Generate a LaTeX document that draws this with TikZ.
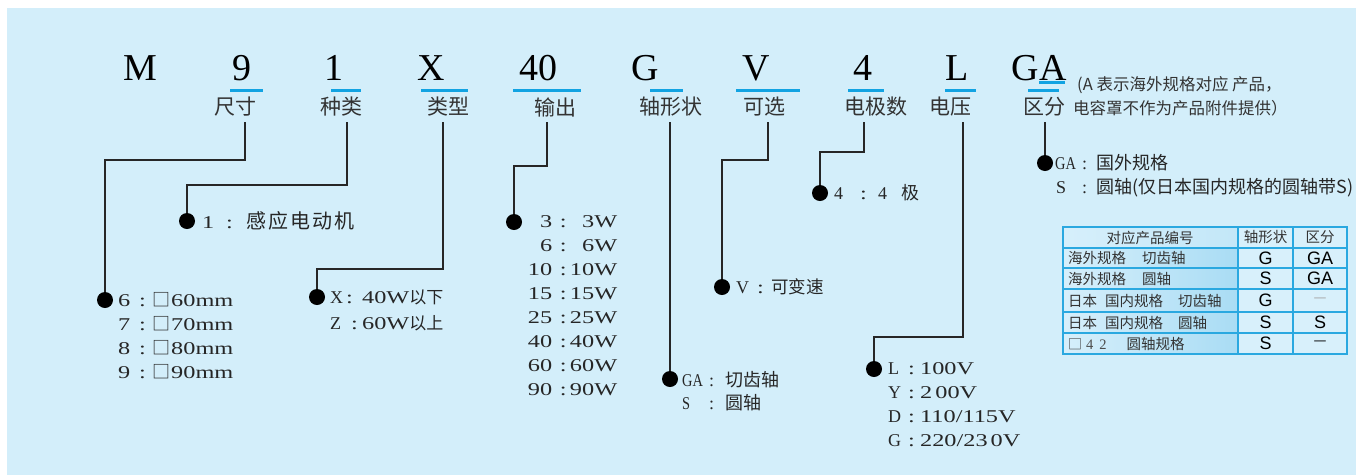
\documentclass[tikz,border=0pt]{standalone}
\usepackage{fontspec}
\setmainfont{Liberation Serif}
\newfontfamily\cjk{Noto Sans CJK SC}
\newfontfamily\wser[FakeStretch=1.35]{Liberation Serif}
\newfontfamily\cser[FakeStretch=0.8]{Liberation Serif}
\newfontfamily\tsans{Liberation Sans}
\definecolor{bgblue}{HTML}{D3EEFA}
\definecolor{ublue}{HTML}{12A3E2}
\definecolor{tblue}{HTML}{2AA8E0}
\definecolor{cellL}{HTML}{D6EFFB}
\definecolor{cellR}{HTML}{A9DCF4}
\definecolor{cellP}{HTML}{D8F0FB}
\definecolor{headR}{HTML}{C3E7F8}
\newcommand\fs[1]{\fontsize{#1}{#1}\selectfont}
\begin{document}
\begin{tikzpicture}[x=1pt,y=-1pt,
  big/.style={font=\fs{38}, anchor=base, inner sep=0pt},
  lab/.style={font=\cjk\fs{21}, inner sep=0pt, text=black!80},
  uline/.style={draw=ublue, line width=3pt},
  conn/.style={draw=black!85, line width=1.1pt},
  bdot/.style={circle, fill=black, minimum size=16pt, inner sep=0pt},
  ann/.style={font=\rmfamily\fs{18}, inner sep=0pt, anchor=west, text=black!85},
  tb/.style={draw=tblue, line width=1.1pt},
  tcj/.style={font=\cjk\fs{14.5}, inner sep=0pt, text=black!80},
  tlat/.style={font=\tsans\fs{18}, inner sep=0pt},
]
\useasboundingbox (0,0) rectangle (1356,475);
\fill[white] (0,0) rectangle (1356,475);
\fill[bgblue] (7,8) rectangle (1356,475);

% model code
\node[big] (gM) at (140,80) {M};
\node[big] (g9) at (242,80) {9};
\node[big] (g1) at (334,80) {1};
\node[big] (gX) at (431,80) {X};
\node[big] (g40) at (538,80) {40};
\node[big] (gG) at (645,80) {G};
\node[big] (gV) at (756,80) {V};
\node[big] (g4) at (863,80) {4};
\node[big] (gL) at (957,80) {L};
\node[big] (gGA) at (1039,80) {GA};

\draw[uline] (230,90) -- (263,90);
\draw[uline] (331,90) -- (361,90);
\draw[uline] (421,90) -- (468,90);
\draw[uline] (513,90) -- (581,90);
\draw[uline] (650,90) -- (683,90);
\draw[uline] (736,90) -- (800,90);
\draw[uline] (848,90) -- (884,90);
\draw[uline] (945,90) -- (976,90);
\draw[uline] (1039,82) -- (1065,82);
\draw[uline] (1028,90) -- (1059,90);

% labels
\node[lab] (l1) at (235,107) {尺寸};
\node[lab] (l2) at (341,107) {种类};
\node[lab] (l3) at (448,107) {类型};
\node[lab] (l4) at (555,107) {输出};
\node[lab] (l5) at (671,107) {轴形状};
\node[lab] (l6) at (764,107) {可选};
\node[lab] (l7) at (876,107) {电极数};
\node[lab] (l8) at (950,107) {电压};
\node[lab] (l9) at (1044,107) {区分};
\node[font=\cjk\fs{16.5}, anchor=west, inner sep=0pt, text=black!80] (n1) at (1077,85) {(A 表示海外规格对应 产品，};
\node[font=\cjk\fs{16.5}, anchor=west, inner sep=0pt, text=black!80] (n2) at (1073,108) {电容罩不作为产品附件提供）};

% connectors
\coordinate (c1) at (245,122); \coordinate (k1) at (105,160);
\coordinate (c2) at (347,122); \coordinate (k2) at (187,185);
\coordinate (c3) at (443,122); \coordinate (k3) at (317,269);
\coordinate (c4) at (547,122); \coordinate (k4) at (514,166);
\coordinate (c5) at (670,122);
\coordinate (c6) at (768,122); \coordinate (k6) at (722,160);
\coordinate (c7) at (864,122); \coordinate (k7) at (820,152);
\coordinate (c8) at (963,122); \coordinate (k8) at (874,337);
\coordinate (c9) at (1045,122);

\node[bdot] (d1) at (105,300) {};
\node[bdot] (d2) at (187,221) {};
\node[bdot] (d3) at (317,297) {};
\node[bdot] (d4) at (514,222) {};
\node[bdot] (d5) at (670,379) {};
\node[bdot] (d6) at (722,287) {};
\node[bdot] (d7) at (820,193) {};
\node[bdot] (d8) at (874,369) {};
\node[bdot] (d9) at (1045,163) {};

\draw[conn] (c1) |- (k1) -- (d1);
\draw[conn] (c2) |- (k2) -- (d2);
\draw[conn] (c3) |- (k3) -- (d3);
\draw[conn] (c4) |- (k4) -- (d4);
\draw[conn] (c5) -- (d5);
\draw[conn] (c6) |- (k6) -- (d6);
\draw[conn] (c7) |- (k7) -- (d7);
\draw[conn] (c8) |- (k8) -- (d8);
\draw[conn] (c9) -- (d9);

% size block
\node[ann] (s6) at (118,300) {\makebox[21pt][l]{\wser 6}\makebox[13pt][l]{\wser :}{\cjk □}\hspace{1pt}{\wser 60mm}};
\node[ann] (s7) at (118,324) {\makebox[21pt][l]{\wser 7}\makebox[13pt][l]{\wser :}{\cjk □}\hspace{1pt}{\wser 70mm}};
\node[ann] (s8) at (118,348) {\makebox[21pt][l]{\wser 8}\makebox[13pt][l]{\wser :}{\cjk □}\hspace{1pt}{\wser 80mm}};
\node[ann] (s9) at (118,372) {\makebox[21pt][l]{\wser 9}\makebox[13pt][l]{\wser :}{\cjk □}\hspace{1pt}{\wser 90mm}};

% kind block
\node[ann] (k1t) at (202,221) {\makebox[24pt][l]{\wser 1}\makebox[20pt][l]{\wser :}{\cjk\fs{20}感\kern2pt 应\kern2pt 电\kern2pt 动\kern2pt 机}};

% type block
\node[ann] (tx) at (330,297) {\makebox[16pt][l]{X}\makebox[16pt][l]{\wser :}{\wser 40W}{\cjk\fs{17}以下}};
\node[ann] (tz) at (330,323) {\makebox[21pt][l]{Z}\makebox[11pt][l]{\wser :}{\wser 60W}{\cjk\fs{17}以上}};

% output block
\foreach \n/\v/\yy in {3/3W/222, 6/6W/246, 10/10W/270, 15/15W/294, 25/25W/318, 40/40W/342, 60/60W/366, 90/90W/390}{
  \node[ann] (p\n) at (517,\yy) {\makebox[35pt][r]{\wser \n}\makebox[22pt][c]{\wser :}\makebox[43pt][r]{\wser \v}};
}

% shaft block
\node[ann] (sg) at (682,380) {\makebox[27pt][l]{\cser GA}\makebox[16pt][l]{:}{\cjk 切齿轴}};
\node[ann] (ss) at (682,403) {\makebox[27pt][l]{\cser S}\makebox[16pt][l]{:}{\cjk 圆轴}};

% option block
\node[ann] (ov) at (736,287) {\makebox[21pt][l]{V}\makebox[14pt][l]{\wser :}{\cjk\fs{17.5}可变速}};

% poles block
\node[ann] (pp) at (834,193) {\makebox[26pt][l]{4}\makebox[18pt][l]{\wser :}\makebox[23pt][l]{4}{\cjk 极}};

% voltage block
\node[ann] (vL) at (888,369) {\makebox[20pt][l]{L}\makebox[12pt][l]{\wser :}{\wser 100V}};
\node[ann] (vY) at (888,393) {\makebox[20pt][l]{Y}\makebox[12pt][l]{\wser :}{\wser 2\,00V}};
\node[ann] (vD) at (888,417) {\makebox[20pt][l]{D}\makebox[12pt][l]{\wser :}{\wser 110/115V}};
\node[ann] (vG) at (888,441) {\makebox[20pt][l]{G}\makebox[12pt][l]{\wser :}{\wser 220/23\,0V}};

% distinction block
\node[ann] (q1) at (1055,163) {\makebox[27pt][l]{\cser GA}\makebox[14pt][l]{:}{\cjk 国外规格}};
\node[ann] (q2) at (1056,188) {\makebox[26pt][l]{S}\makebox[14pt][l]{:}{\cjk 圆轴(仅日本国内规格的圆轴带S)}};

% table
\shade[left color=cellL, right color=headR] (1063,227) rectangle (1238,248);
\fill[cellP] (1238,227) rectangle (1347,248);
\shade[left color=cellL, right color=cellR] (1063,248) rectangle (1238,354);
\fill[cellP] (1238,248) rectangle (1347,354);
\draw[tb] (1063,227) rectangle (1347,354);
\draw[tb] (1063,248) -- (1347,248);
\draw[tb] (1063,268) -- (1347,268);
\draw[tb] (1063,289) -- (1347,289);
\draw[tb] (1063,312) -- (1347,312);
\draw[tb] (1063,333) -- (1347,333);
\draw[tb] (1238,227) -- (1238,354);
\draw[tb] (1293,227) -- (1293,354);

\node[tcj] (h1) at (1150,237.5) {对应产品编号};
\node[tcj] (h2) at (1265.5,237.5) {轴形状};
\node[tcj] (h3) at (1320,237.5) {区分};

\node[tcj, anchor=west] (a1) at (1068,258) {海外规格\hspace{16pt}切齿轴};
\node[tcj, anchor=west] (a2) at (1068,278.5) {海外规格\hspace{16pt}圆轴};
\node[tcj, anchor=west] (a3) at (1068,300.5) {日本\hspace{8pt}国内规格\hspace{15pt}切齿轴};
\node[tcj, anchor=west] (a4) at (1068,322.5) {日本\hspace{8pt}国内规格\hspace{15pt}圆轴};
\node[tcj, anchor=west] (a5) at (1068,343.5) {{\fs{14}□}\hspace{4pt}{\rmfamily\color{black!70}4\hspace{6pt}2}\hspace{20pt}圆轴规格};

\node[tlat] (b1) at (1265.5,258) {G};
\node[tlat] (b2) at (1265.5,278.5) {S};
\node[tlat] (b3) at (1265.5,300.5) {G};
\node[tlat] (b4) at (1265.5,322.5) {S};
\node[tlat] (b5) at (1265.5,343.5) {S};

\node[tlat] (e1) at (1320,258) {GA};
\node[tlat] (e2) at (1320,278.5) {GA};
\node[tcj, text=black!35] (e3) at (1320,300.5) {—};
\node[tlat] (e4) at (1320,322.5) {S};
\node[tcj, text=black] (e5) at (1320,343.5) {—};
\end{tikzpicture}
\end{document}
